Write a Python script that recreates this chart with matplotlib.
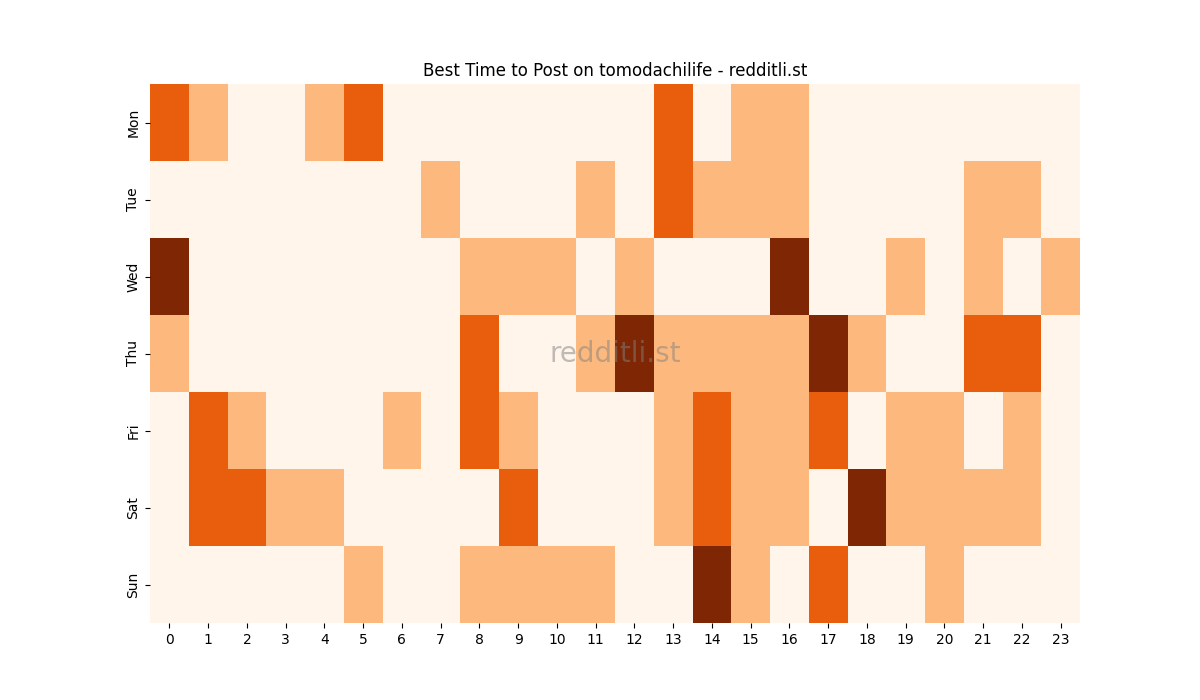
import matplotlib
matplotlib.use("Agg")
import matplotlib.pyplot as plt
import numpy as np

days = ["Mon", "Tue", "Wed", "Thu", "Fri", "Sat", "Sun"]
hours = list(range(24))

mon = [2, 1, 0, 0, 1, 2, 0, 0, 0, 0, 0, 0, 0, 2, 0, 1, 1, 0, 0, 0, 0, 0, 0, 0]
tue = [0, 0, 0, 0, 0, 0, 0, 1, 0, 0, 0, 1, 0, 2, 1, 1, 1, 0, 0, 0, 0, 1, 1, 0]
wed = [3, 0, 0, 0, 0, 0, 0, 0, 1, 1, 1, 0, 1, 0, 0, 0, 3, 0, 0, 1, 0, 1, 0, 1]
thu = [1, 0, 0, 0, 0, 0, 0, 0, 2, 0, 0, 1, 3, 1, 1, 1, 1, 3, 1, 0, 0, 2, 2, 0]
fri = [0, 2, 1, 0, 0, 0, 1, 0, 2, 1, 0, 0, 0, 1, 2, 1, 1, 2, 0, 1, 1, 0, 1, 0]
sat = [0, 2, 2, 1, 1, 0, 0, 0, 0, 2, 0, 0, 0, 1, 2, 1, 1, 0, 3, 1, 1, 1, 1, 0]
sun = [0, 0, 0, 0, 0, 1, 0, 0, 1, 1, 1, 1, 0, 0, 3, 1, 0, 2, 0, 0, 1, 0, 0, 0]

data = np.array([mon, tue, wed, thu, fri, sat, sun])

fig = plt.figure(figsize=(12, 7), dpi=100)
ax = fig.add_subplot(111)
ax.pcolormesh(np.arange(25), np.arange(8), data, cmap="Oranges", vmin=0, vmax=3)
ax.set_xlim(0, 24)
ax.set_ylim(7, 0)
ax.set_xticks(np.arange(24) + 0.5)
ax.set_xticklabels([str(h) for h in hours])
ax.set_yticks(np.arange(7) + 0.5)
ax.set_yticklabels(days, rotation=90, va="center")
for s in ax.spines.values():
    s.set_visible(False)
ax.set_title("Best Time to Post on tomodachilife - redditli.st")
ax.text(0.5, 0.5, "redditli.st", transform=ax.transAxes, ha="center", va="center",
        fontsize=20, color="gray", alpha=0.5)
fig.savefig("out.png")
